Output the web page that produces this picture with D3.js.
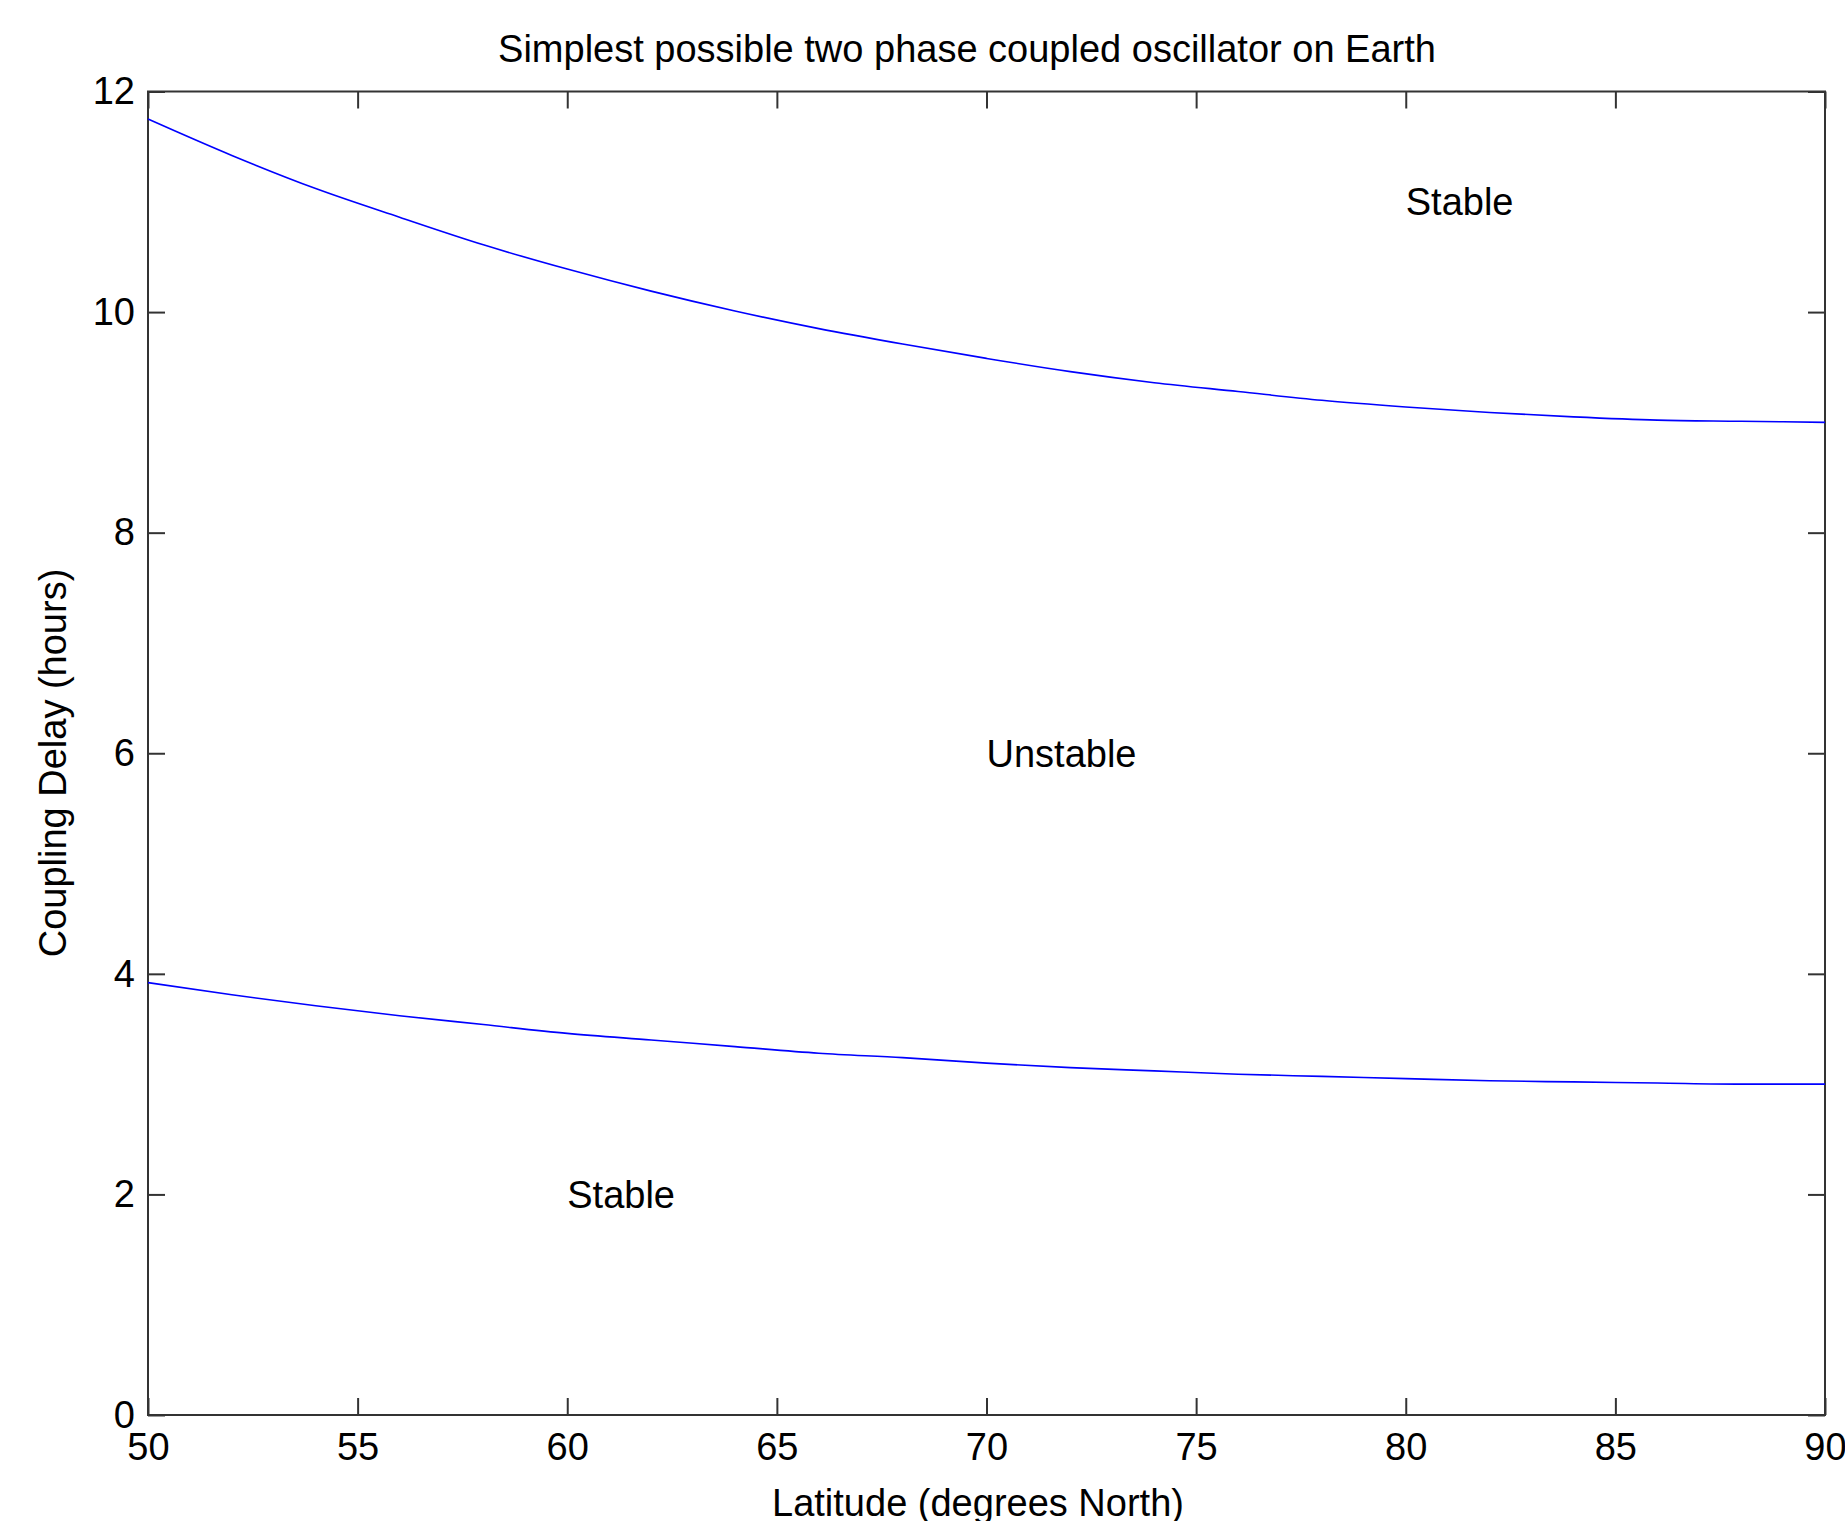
<!DOCTYPE html>
<html>
<head>
<meta charset="utf-8">
<script src="https://cdn.jsdelivr.net/npm/d3@7"></script>
<style>
  html, body { margin: 0; padding: 0; background: #fff; }
  svg { display: block; }
  text { font-family: "Liberation Sans", Arial, Helvetica, sans-serif; fill: #000; }
</style>
</head>
<body>
<svg id="chart" width="1845" height="1521"></svg>
<script>
// latitude samples (degrees North)
var latitude = [50, 52, 54, 56, 58, 60, 62, 64, 66, 68, 70, 72, 74, 76, 78, 80, 82, 84, 86, 88, 90];
// upper stability boundary (hours)
var upperDelay = [11.75, 11.42, 11.12, 10.86, 10.61, 10.39, 10.19, 10.01, 9.85, 9.71, 9.58,
                  9.46, 9.36, 9.28, 9.20, 9.14, 9.09, 9.05, 9.02, 9.01, 9.00];
// lower stability boundary (hours)
var lowerDelay = [3.92, 3.81, 3.71, 3.62, 3.54, 3.46, 3.40, 3.34, 3.28, 3.24, 3.19,
                  3.15, 3.12, 3.09, 3.07, 3.05, 3.03, 3.02, 3.01, 3.00, 3.00];

var xTicks = [50, 55, 60, 65, 70, 75, 80, 85, 90];
var yTicks = [0, 2, 4, 6, 8, 10, 12];

// region labels: [latitude, delay, text]
var regionLabels = [
    [80, 11, "Stable"],
    [70, 6, "Unstable"],
    [60, 2, "Stable"]
];

var titleText = "Simplest possible two phase coupled oscillator on Earth";
var xLabel = "Latitude (degrees North)";
var yLabel = "Coupling Delay (hours)";

var margin = { left: 148, right: 1825, top: 91.5, bottom: 1415 };
var fontSize = 38;
var tickLen = 17;

var svg = d3.select("#chart");

var x = d3.scaleLinear().domain([50, 90]).range([margin.left, margin.right]);
var y = d3.scaleLinear().domain([0, 12]).range([margin.bottom, margin.top]);

function styleAxis(g) {
    g.select(".domain").remove();
    g.selectAll(".tick line").attr("stroke", "#333").attr("stroke-width", 2);
    g.selectAll(".tick text")
        .attr("font-size", fontSize)
        .attr("font-family", "Liberation Sans, Arial, sans-serif")
        .attr("fill", "#000");
}

// bottom axis with labels, ticks pointing inward
svg.append("g")
    .attr("class", "x-axis")
    .attr("transform", `translate(0,${margin.bottom})`)
    .call(d3.axisBottom(x).tickValues(xTicks).tickSize(-tickLen).tickPadding(18))
    .call(styleAxis);

svg.append("g")
    .attr("transform", `translate(0,${margin.top})`)
    .call(d3.axisTop(x).tickValues(xTicks).tickSize(-tickLen).tickFormat(""))
    .call(styleAxis);

svg.append("g")
    .attr("class", "y-axis")
    .attr("transform", `translate(${margin.left},0)`)
    .call(d3.axisLeft(y).tickValues(yTicks).tickSize(-tickLen).tickPadding(13))
    .call(styleAxis);

svg.append("g")
    .attr("transform", `translate(${margin.right},0)`)
    .call(d3.axisRight(y).tickValues(yTicks).tickSize(-tickLen).tickFormat(""))
    .call(styleAxis);

// plot box
svg.append("rect")
    .attr("x", margin.left)
    .attr("y", margin.top)
    .attr("width", margin.right - margin.left)
    .attr("height", margin.bottom - margin.top)
    .attr("fill", "none")
    .attr("stroke", "#333")
    .attr("stroke-width", 2);

var line = d3.line()
    .x(d => x(d[0]))
    .y(d => y(d[1]))
    .curve(d3.curveMonotoneX);

[upperDelay, lowerDelay].forEach(function (series) {
    svg.append("path")
        .datum(latitude.map((lat, i) => [lat, series[i]]))
        .attr("fill", "none")
        .attr("stroke", "#0000ff")
        .attr("stroke-width", 1.6)
        .attr("d", line);
});

svg.selectAll(".region")
    .data(regionLabels)
    .enter().append("text")
    .attr("class", "region")
    .attr("x", d => x(d[0]))
    .attr("y", d => y(d[1]))
    .attr("dy", "0.35em")
    .attr("font-size", fontSize)
    .text(d => d[2]);

svg.append("text")
    .attr("x", 967)
    .attr("y", 62)
    .attr("text-anchor", "middle")
    .attr("font-size", fontSize)
    .text(titleText);

svg.append("text")
    .attr("x", 978)
    .attr("y", 1516)
    .attr("text-anchor", "middle")
    .attr("font-size", fontSize)
    .text(xLabel);

svg.append("text")
    .attr("transform", "translate(66,763) rotate(-90)")
    .attr("text-anchor", "middle")
    .attr("font-size", fontSize)
    .text(yLabel);
</script>
</body>
</html>
